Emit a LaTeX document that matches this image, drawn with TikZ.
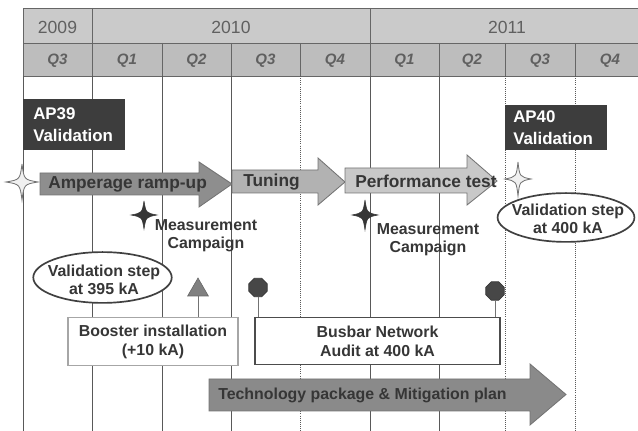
\documentclass[tikz,border=0pt]{standalone}
\usepackage{fontspec}
\setmainfont{Liberation Sans}
\usepackage{xcolor}
\usepackage{tikz}
\usetikzlibrary{shapes.geometric, positioning, calc}

\definecolor{hdrgray}{HTML}{CACACA}
\definecolor{qtrgray}{HTML}{BDBDBD}
\definecolor{hdrtext}{HTML}{606060}
\definecolor{inkgray}{HTML}{363636}
\definecolor{apbox}{HTML}{3D3D3D}
\definecolor{ampfill}{HTML}{8E8E8E}
\definecolor{tunefill}{HTML}{B2B2B2}
\definecolor{perffill}{HTML}{C8C8C8}
\definecolor{techfill}{HTML}{8A8A8A}

\tikzset{
  litstar/.pic={\filldraw[fill=black!6, draw=black!55, line width=0.6pt]
    (0,-1) .. controls (0.13,-0.13) .. (1,0) .. controls (0.13,0.13) .. (0,1)
    .. controls (-0.13,0.13) .. (-1,0) .. controls (-0.13,-0.13) .. cycle;},
  darkstar/.pic={\filldraw[fill=inkgray, draw=inkgray, line width=0.4pt]
    (0,-1) .. controls (0.15,-0.15) .. (1,0) .. controls (0.15,0.15) .. (0,1)
    .. controls (-0.15,0.15) .. (-1,0) .. controls (-0.15,-0.15) .. cycle;}
}

\begin{document}
\begin{tikzpicture}[x=0.025cm, y=-0.025cm,
    hdrline/.style={black!60, line width=0.6pt},
    gridline/.style={black!65, line width=0.5pt},
    yearlabel/.style={text=hdrtext, font=\fontsize{12.5}{14}\selectfont},
    qtrlabel/.style={text=hdrtext, font=\fontsize{10.7}{12}\selectfont\bfseries\itshape},
    apbox/.style={fill=apbox, text=white, anchor=west, align=left, inner xsep=0.25cm,
        text width=2.05cm, minimum height=1.275cm,
        font=\fontsize{12}{15.6}\selectfont\bfseries},
    arrowlabel/.style={anchor=west, text=inkgray, inner sep=0pt,
        font=\fontsize{12.3}{14}\selectfont\bfseries},
    notelabel/.style={text=inkgray, align=center, inner sep=0pt,
        font=\fontsize{11.3}{12.8}\selectfont\bfseries},
    valring/.style={draw=black!75, fill=white, line width=1.2pt},
    boxlabel/.style={fill=white, align=center, minimum height=1.18cm, inner sep=0pt,
        text=inkgray, font=\fontsize{11.3}{13.5}\selectfont\bfseries},
    link/.style={black!55, line width=0.6pt}]

    \useasboundingbox (0,0) rectangle (638,431);

    % Header
    \fill[hdrgray] (23,8) rectangle (638,43);
    \fill[qtrgray] (23,43) rectangle (638,76);
    \draw[hdrline] (638,8) -- (23,8) -- (23,76) -- (638,76);
    \draw[hdrline] (23,43) -- (638,43);
    \draw[hdrline] (92,8) -- (92,43);
    \draw[hdrline] (370,8) -- (370,43);
    \node[yearlabel] (y2009) at (57.5,27) {2009};
    \node[yearlabel] (y2010) at (231,27) {2010};
    \node[yearlabel] (y2011) at (507,27) {2011};

    % Quarters and grid
    \foreach \xa/\xb/\qq/\ls [count=\i] in {23/92/Q3/solid, 92/162/Q1/solid,
            162/231/Q2/solid, 231/300/Q3/solid, 300/370/Q4/densely dotted,
            370/439/Q1/solid, 439/505/Q2/solid, 505/575/Q3/densely dotted,
            575/645/Q4/densely dotted} {
        \draw[hdrline] (\xa,43) -- (\xa,76);
        \draw[gridline, \ls] (\xa,76) -- (\xa,431);
        \node[qtrlabel] (q\i) at ({(\xa+\xb)/2},61) {\qq};
    }

    % Validation boxes
    \node[apbox] (ap39) at (23,124.5) {AP39\\Validation};
    \node[apbox, minimum height=1.125cm, text width=2.15cm, inner xsep=0.2cm] (ap40) at (505,127.5) {AP40\\Validation};

    % Phase arrows
    \filldraw[fill=ampfill, draw=black!55, line width=0.6pt]
        (40,173) -- (199,173) -- (199,162) -- (232,184) -- (199,207) -- (199,195) -- (40,195) -- cycle;
    \filldraw[fill=tunefill, draw=black!55, line width=0.6pt]
        (232,170) -- (318,170) -- (318,158) -- (345,182) -- (318,205) -- (318,193) -- (232,193) -- cycle;
    \filldraw[fill=perffill, draw=black!55, line width=0.6pt]
        (345,168) -- (467,168) -- (467,155) -- (497,181) -- (467,205) -- (467,193) -- (345,193) -- cycle;
    \node[arrowlabel] (ramp) at (48,184) {Amperage ramp-up};
    \node[arrowlabel] (tune) at (243,182) {Tuning};
    \node[arrowlabel] (perf) at (355,181) {Performance test};

    % Milestones
    \pic (st1) [xscale=16, yscale=18] at (22,182) {litstar};
    \pic (st2) [xscale=13, yscale=14] at (144,215) {darkstar};
    \pic (st3) [xscale=13, yscale=15] at (365,215) {darkstar};
    \pic (st4) [xscale=13, yscale=17] at (518,179) {litstar};
    \node[notelabel] (meas1) at (206,236) {Measurement\\Campaign};
    \node[notelabel] (meas2) at (428,240) {Measurement\\Campaign};

    % Validation steps
    \coordinate (v395) at (102.5,277.5);
    \coordinate (v400) at (566,217.5);
    \filldraw[valring] (v395) ellipse [x radius=1.73cm, y radius=0.635cm];
    \filldraw[valring] (v400) ellipse [x radius=1.71cm, y radius=0.61cm];
    \node[notelabel] (val1) at (104,280) {Validation step\\at 395 kA};
    \node[notelabel] (val2) at (568,219) {Validation step\\at 400 kA};

    % Boxes
    \node[boxlabel, draw=black!35, line width=0.8pt, minimum width=4.25cm] (boost) at (153,341.5) {Booster installation\\(+10 kA)};
    \node[boxlabel, draw=black!70, line width=0.9pt, minimum width=6.125cm] (busbar) at (377.5,341) {Busbar Network\\Audit at 400 kA};

    % Markers
    \node[regular polygon, regular polygon sides=3, minimum size=0.6cm, inner sep=0pt,
        fill=black!50, draw=black!60] (tri) at (198,290) {};
    \node[regular polygon, regular polygon sides=8, minimum size=0.5cm, inner sep=0pt,
        fill=black!72, draw=black!80] (oct1) at (258,287.5) {};
    \node[regular polygon, regular polygon sides=8, minimum size=0.5cm, inner sep=0pt,
        fill=black!72, draw=black!80] (oct2) at (495,291) {};
    \draw[link] (tri.south) -- (tri.south |- boost.north);
    \draw[link] (oct1.south) -- (oct1.south |- busbar.north);
    \draw[link] (oct2.south) -- (oct2.south |- busbar.north);

    % Technology package
    \filldraw[fill=techfill, draw=black!55, line width=0.6pt]
        (209,379) -- (530,379) -- (530,364) -- (566,394.5) -- (530,425) -- (530,411) -- (209,411) -- cycle;
    \node[arrowlabel, font=\fontsize{11.3}{13}\selectfont\bfseries] (tech) at (218,395) {Technology package \& Mitigation plan};

\end{tikzpicture}
\end{document}
